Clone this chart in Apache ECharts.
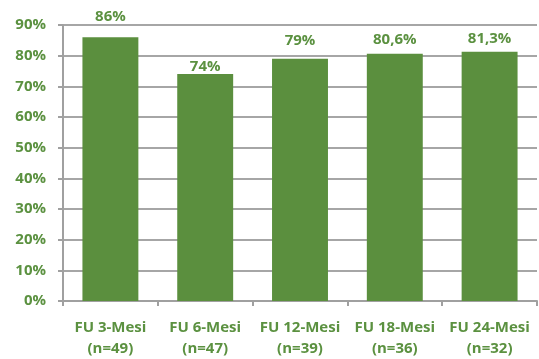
<!DOCTYPE html>
<html><head><meta charset="utf-8">
<script src="https://cdn.jsdelivr.net/npm/echarts@6/dist/echarts.min.js"></script>
<style>html,body{margin:0;padding:0;background:#fff}#c{width:539px;height:359px}</style>
</head><body><div id="c"></div>
<script>
const categories = ['FU 3-Mesi\n(n=49)','FU 6-Mesi\n(n=47)','FU 12-Mesi\n(n=39)','FU 18-Mesi\n(n=36)','FU 24-Mesi\n(n=32)'];
const values = [86, 74, 79, 80.6, 81.3];
// label lift above each bar (style only)
const labelDistance = [13, 0, 10, 7, 5];
const green = '#5B9140';
const barColor = '#5B8F3E';
const font = 'Open Sans';
const chart = echarts.init(document.getElementById('c'));
chart.setOption({
  animation:false,
  grid:{left:63,right:2,top:25,bottom:58},
  xAxis:{type:'category',data:categories,
    axisLine:{lineStyle:{color:'#A0A0A0',width:2}},
    axisTick:{show:true,length:5,lineStyle:{color:'#A0A0A0',width:2}},
    axisLabel:{interval:0,color:green,fontFamily:font,fontWeight:'bold',fontSize:15,lineHeight:21,margin:16}},
  yAxis:{type:'value',min:0,max:90,interval:10,
    axisLine:{show:true,lineStyle:{color:'#A0A0A0',width:2}},
    axisTick:{show:true,length:5,lineStyle:{color:'#A0A0A0',width:2}},
    splitLine:{lineStyle:{color:'#A6A6A6',width:2}},
    axisLabel:{color:green,fontFamily:font,fontWeight:'bold',fontSize:15,margin:17,formatter:'{value}%'}},
  series:[{type:'bar',barWidth:'59%',itemStyle:{color:barColor},
    data:values.map((v,i)=>({value:v,label:{distance:labelDistance[i]}})),
    label:{show:true,position:'top',color:green,fontFamily:font,fontWeight:'bold',fontSize:15,
      formatter:p=>String(p.value).replace('.',',')+'%'}}]
});
</script></body></html>
